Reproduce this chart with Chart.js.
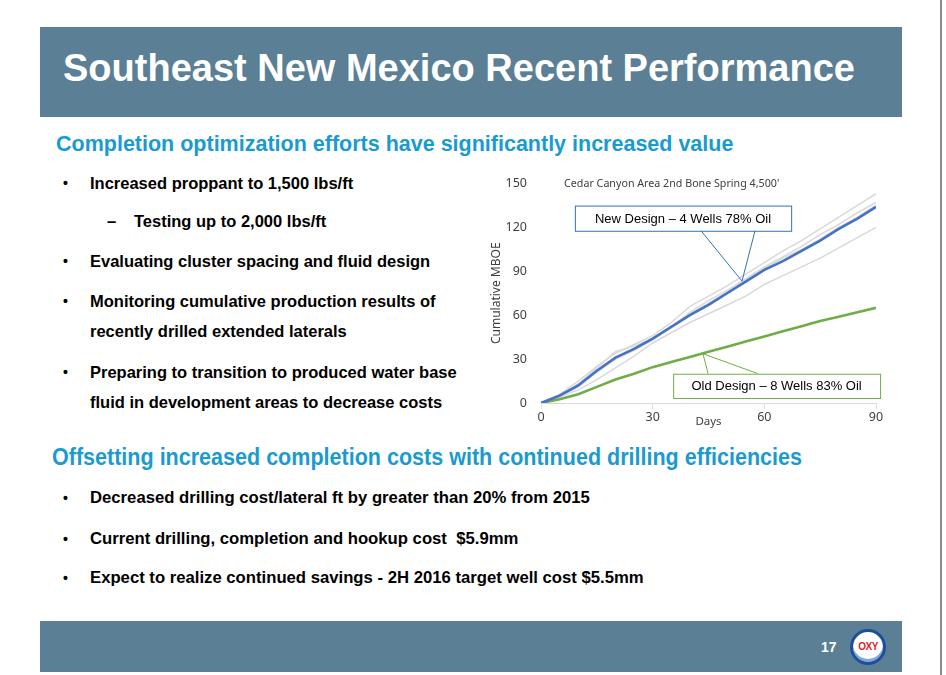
<!DOCTYPE html>
<html>
<head>
<meta charset="utf-8">
<script src="https://cdn.jsdelivr.net/npm/chart.js@4/dist/chart.umd.min.js"></script>
<style>
  body { margin: 0; width: 946px; height: 675px; background: #fff; position: relative; overflow: hidden;
         font-family: "Liberation Sans", Arial, sans-serif; }
  .edge { position: absolute; left: 940px; top: 0; width: 2px; height: 675px; background: #8a8a8a; }
  .header { position: absolute; left: 40px; top: 27px; width: 862px; height: 90px; background: #5b7f95; }
  .header h1 { margin: 0; position: absolute; left: 23px; top: 19px; color: #fff; font-size: 38px; font-weight: bold; line-height: 44px; }
  .footer { position: absolute; left: 40px; top: 621px; width: 862px; height: 51px; background: #5b7f95; }
  .pagenum { position: absolute; left: 781px; top: 18px; color: #fff; font-weight: bold; font-size: 14px; }
  .logo { position: absolute; left: 810px; top: 8px; width: 30px; height: 30px; border-radius: 50%;
          background: #fff; border: 3px solid #1d4f9c; box-shadow: inset 0 -3px 0 #7fa8d8;
          color: #d7262b; font-weight: bold; font-size: 10px; line-height: 30px; text-align: center; letter-spacing: -0.5px; }
  .t { position: absolute; white-space: nowrap; line-height: 20px; }
  .sub { color: #1a9bd0; font-weight: bold; font-size: 21.5px; }
  .b { font-weight: bold; font-size: 16.5px; color: #000; }
  .dot { font-size: 14px; }
  .narrow { transform: scaleX(0.936); transform-origin: left center; }
  #chartBox { position: absolute; left: 480px; top: 170px; width: 420px; height: 260px; }
</style>
</head>
<body>
<div class="edge"></div>
<div class="header"><h1>Southeast New Mexico Recent Performance</h1></div>

<div class="t sub" style="left:56px; top:134px;">Completion optimization efforts have significantly increased value</div>
<div class="t b dot" style="left:63px; top:173px;">•</div>
<div class="t b" style="left:90px; top:173px;">Increased proppant to 1,500 lbs/ft</div>
<div class="t b" style="left:107px; top:211px;">–</div>
<div class="t b" style="left:134px; top:211px;">Testing up to 2,000 lbs/ft</div>
<div class="t b dot" style="left:63px; top:251px;">•</div>
<div class="t b" style="left:90px; top:251px;">Evaluating cluster spacing and fluid design</div>
<div class="t b dot" style="left:63px; top:291px;">•</div>
<div class="t b" style="left:90px; top:291px;">Monitoring cumulative production results of</div>
<div class="t b" style="left:90px; top:321px;">recently drilled extended laterals</div>
<div class="t b dot" style="left:63px; top:362px;">•</div>
<div class="t b" style="left:90px; top:362px;">Preparing to transition to produced water base</div>
<div class="t b" style="left:90px; top:392px;">fluid in development areas to decrease costs</div>

<div class="t sub narrow" style="left:52px; top:447px; font-size:23px;">Offsetting increased completion costs with continued drilling efficiencies</div>
<div class="t b dot" style="left:63px; top:488px;">•</div>
<div class="t b" style="left:90px; top:488px; font-size:16.7px;">Decreased drilling cost/lateral ft by greater than 20% from 2015</div>
<div class="t b dot" style="left:63px; top:529px;">•</div>
<div class="t b" style="left:90px; top:529px; font-size:16.7px;">Current drilling, completion and hookup cost&nbsp; $5.9mm</div>
<div class="t b dot" style="left:63px; top:568px;">•</div>
<div class="t b" style="left:90px; top:568px; font-size:16.7px;">Expect to realize continued savings - 2H 2016 target well cost $5.5mm</div>

<div id="chartBox"><canvas id="perfChart"></canvas></div>

<div class="footer">
  <div class="pagenum">17</div>
  <div class="logo">OXY</div>
</div>

<script>
// Cedar Canyon cumulative production (MBOE) by day on production
const days       = [0, 5, 10, 15, 20, 25, 30, 35, 40, 45, 50, 55, 60, 65, 70, 75, 80, 85, 90];
const newDesign  = [0, 5, 12, 22, 31, 37, 44, 52, 60, 67, 75, 83, 91, 97, 104, 111, 119, 126, 134];
const oldDesign  = [0, 2.5, 6, 11, 16, 20, 24.5, 28, 31.5, 35, 38.5, 42, 45.5, 49, 52.5, 56, 59, 62, 65];
// individual new-design wells (light grey)
const wellA = [0, 6, 15, 25, 34, 40, 46, 55, 66, 73, 80, 88, 96, 104, 111, 119, 127, 135, 143];
const wellB = [0, 5, 13, 24, 35, 39, 44, 52, 62, 70, 77, 85, 93, 100, 107, 115, 122, 130, 137];
const wellC = [0, 4, 11, 21, 30, 36, 43, 52, 61, 68, 76, 84, 92, 99, 105, 112, 120, 127, 135];
const wellD = [0, 4, 9, 16, 24, 32, 41, 48, 55, 61, 67, 73, 81, 87, 93, 99, 106, 113, 120];
const yTicks = [0, 30, 60, 90, 120, 150];
const xTicks = [0, 30, 60, 90];

const chartTitle = "Cedar Canyon Area 2nd Bone Spring 4,500'";

// callouts: box corners and leader anchor in data units
const callouts = [
    { text: 'New Design – 4 Wells 78% Oil', color: '#2e75b6',
      box: [9.1, 134.9, 67.2, 117.7], legs: [43, 57.5], anchor: [54, 83.3], legsFrom: 'bottom' },
    { text: 'Old Design – 8 Wells 83% Oil', color: '#70ad47',
      box: [35.5, 20, 91.1, 3.4], legs: [44.9, 58.3], anchor: [43.5, 33.7], legsFrom: 'top' }
];

function series(values) {
    return days.map((d, i) => ({ x: d, y: values[i] }));
}

const overlayPlugin = {
    id: 'overlay',
    afterDatasetsDraw(chart) {
        const { ctx, scales: { x, y }, chartArea } = chart;
        ctx.save();
        // chart title inside plot
        ctx.fillStyle = '#404040';
        ctx.font = '10.7px "Noto Sans", sans-serif';
        ctx.textBaseline = 'middle';
        ctx.fillText(chartTitle, x.getPixelForValue(6.2), chartArea.top);
        // x axis title sits in the tick row
        ctx.textAlign = 'center';
        ctx.font = '11.5px "Noto Sans", sans-serif';
        ctx.fillText('Days', (chartArea.left + chartArea.right) / 2, chartArea.bottom + 19);

        callouts.forEach(c => {
            const l = x.getPixelForValue(c.box[0]), t = y.getPixelForValue(c.box[1]);
            const r = x.getPixelForValue(c.box[2]), b = y.getPixelForValue(c.box[3]);
            const ax = x.getPixelForValue(c.anchor[0]), ay = y.getPixelForValue(c.anchor[1]);
            const edge = c.legsFrom === 'bottom' ? b : t;
            ctx.strokeStyle = c.color;
            ctx.lineWidth = 1;
            ctx.beginPath();
            ctx.moveTo(x.getPixelForValue(c.legs[0]), edge);
            ctx.lineTo(ax, ay);
            ctx.lineTo(x.getPixelForValue(c.legs[1]), edge);
            ctx.stroke();
            ctx.fillStyle = '#fff';
            ctx.fillRect(l, t, r - l, b - t);
            ctx.strokeRect(l + 0.5, t + 0.5, r - l, b - t);
            ctx.fillStyle = '#000';
            ctx.font = '13px "Liberation Sans", Arial, sans-serif';
            ctx.textAlign = 'center';
            ctx.fillText(c.text, (l + r) / 2, (t + b) / 2 + 1);
        });
        ctx.restore();
    }
};

const grey = { borderColor: '#d9d9d9', borderWidth: 1.5, pointRadius: 0, order: 3 };
const tickFont = { size: 12.5, family: '"Noto Sans", sans-serif' };

new Chart(document.getElementById('perfChart'), {
    type: 'line',
    data: {
        datasets: [
            { label: 'New Design', data: series(newDesign), borderColor: '#4472c4', borderWidth: 2.6, pointRadius: 0, order: 0 },
            { label: 'Old Design', data: series(oldDesign), borderColor: '#70ad47', borderWidth: 2.6, pointRadius: 0, order: 1 },
            Object.assign({ label: 'Well A', data: series(wellA) }, grey),
            Object.assign({ label: 'Well B', data: series(wellB) }, grey),
            Object.assign({ label: 'Well C', data: series(wellC) }, grey),
            Object.assign({ label: 'Well D', data: series(wellD) }, grey)
        ]
    },
    options: {
        responsive: true,
        maintainAspectRatio: false,
        animation: false,
        layout: { padding: { top: 4, right: 24, left: 9, bottom: 0 } },
        plugins: {
            legend: { display: false },
            tooltip: { enabled: false }
        },
        scales: {
            x: {
                type: 'linear',
                min: 0,
                max: 90,
                afterBuildTicks: s => { s.ticks = xTicks.map(v => ({ value: v })); },
                afterFit: s => { s.height = 27; },
                grid: { drawOnChartArea: false, color: '#e3e3e3', tickLength: 6 },
                border: { color: '#d9d9d9' },
                ticks: { color: '#404040', font: tickFont, padding: 1 }
            },
            y: {
                min: 0,
                max: 150,
                afterBuildTicks: s => { s.ticks = yTicks.map(v => ({ value: v })); },
                afterFit: s => { s.width = 52; },
                grid: { display: false },
                border: { display: false },
                ticks: { color: '#404040', font: tickFont, padding: 6 },
                title: { display: true, text: 'Cumulative MBOE', color: '#404040',
                         font: { size: 12, family: '"Noto Sans", sans-serif' }, padding: 0 }
            }
        }
    },
    plugins: [overlayPlugin]
});
</script>
</body>
</html>
